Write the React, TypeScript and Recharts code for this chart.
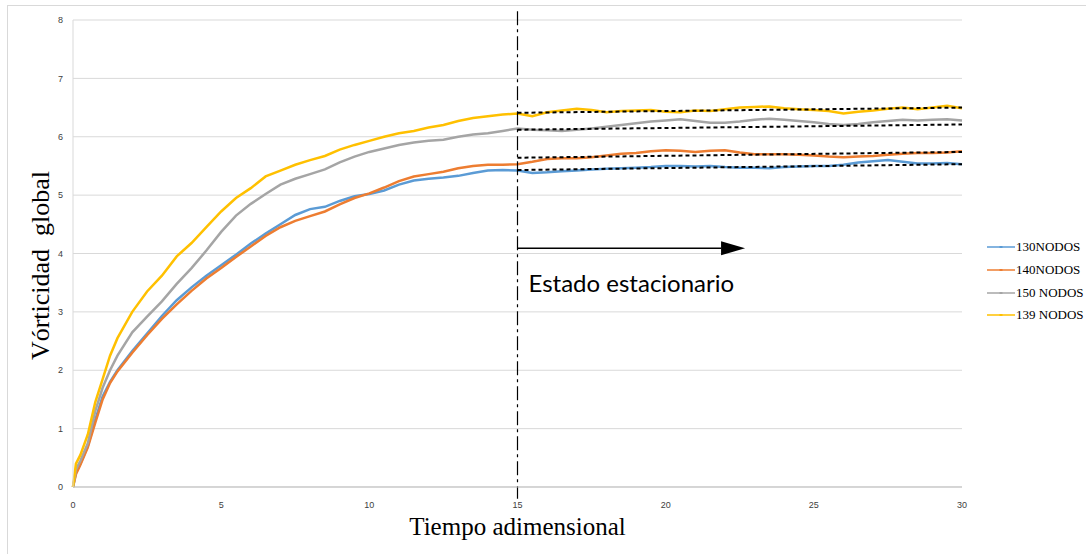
import React from "react";
import {
  CartesianGrid,
  Label,
  Legend,
  Line,
  LineChart,
  ReferenceLine,
  XAxis,
  YAxis,
} from "recharts";

// Tiempo adimensional
const times = [
  0, 0.1, 0.25, 0.5, 0.75, 1, 1.25, 1.5,
  2, 2.5, 3, 3.5, 4, 4.5, 5, 5.5, 6, 6.5,
  7, 7.5, 8, 8.5, 9, 9.5, 10, 10.5, 11, 11.5,
  12, 12.5, 13, 13.5, 14, 14.5, 15, 15.5, 16, 16.5,
  17, 17.5, 18, 18.5, 19, 19.5, 20, 20.5, 21, 21.5,
  22, 22.5, 23, 23.5, 24, 24.5, 25, 25.5, 26, 26.5,
  27, 27.5, 28, 28.5, 29, 29.5, 30,
];

const nodos130 = [
  0, 0.25, 0.4, 0.7, 1.15, 1.55, 1.8, 2.0,
  2.33, 2.63, 2.93, 3.2, 3.42, 3.62, 3.8, 3.98, 4.17, 4.34,
  4.5, 4.66, 4.76, 4.8, 4.9, 4.98, 5.02, 5.08, 5.18, 5.25,
  5.28, 5.3, 5.33, 5.38, 5.42, 5.43, 5.42, 5.38, 5.39, 5.41,
  5.42, 5.44, 5.45, 5.46, 5.47, 5.48, 5.5, 5.5, 5.49, 5.5,
  5.48, 5.47, 5.47, 5.46, 5.48, 5.49, 5.5, 5.5, 5.52, 5.56,
  5.58, 5.6, 5.57, 5.54, 5.54, 5.55, 5.53,
];

const nodos140 = [
  0, 0.22, 0.38, 0.68, 1.1, 1.5, 1.78, 1.98,
  2.3, 2.6, 2.88, 3.13, 3.36, 3.57, 3.75, 3.94, 4.12, 4.3,
  4.45, 4.56, 4.64, 4.72, 4.84, 4.95, 5.03, 5.13, 5.24, 5.32,
  5.36, 5.4, 5.46, 5.5, 5.52, 5.52, 5.53, 5.57, 5.62, 5.63,
  5.63, 5.65, 5.68, 5.71, 5.72, 5.75, 5.77, 5.76, 5.74, 5.76,
  5.77, 5.73, 5.7, 5.7, 5.7, 5.69, 5.68, 5.66, 5.65, 5.66,
  5.67, 5.69, 5.71, 5.72, 5.72, 5.73, 5.75,
];

const nodos150 = [
  0, 0.3, 0.45, 0.75, 1.3, 1.7, 2.0, 2.25,
  2.65, 2.92, 3.18, 3.48, 3.75, 4.05, 4.37, 4.65, 4.85, 5.02,
  5.18, 5.28, 5.36, 5.44, 5.56, 5.66, 5.74, 5.8, 5.86, 5.9,
  5.93, 5.95, 6.0, 6.04, 6.06, 6.1, 6.14, 6.12, 6.11, 6.1,
  6.12, 6.14, 6.17, 6.2, 6.23, 6.26, 6.28, 6.3, 6.27, 6.24,
  6.24, 6.26, 6.29, 6.31, 6.29, 6.27, 6.25, 6.22, 6.2, 6.22,
  6.25, 6.27, 6.29, 6.28, 6.29, 6.3, 6.28,
];

const nodos139 = [
  0, 0.4, 0.55, 0.9, 1.45, 1.85, 2.25, 2.55,
  3.0, 3.35, 3.62, 3.95, 4.18, 4.45, 4.72, 4.95, 5.12, 5.32,
  5.42, 5.52, 5.6, 5.67, 5.78, 5.86, 5.93, 6.0, 6.06, 6.1,
  6.16, 6.2, 6.27, 6.32, 6.35, 6.38, 6.4, 6.35, 6.42, 6.45,
  6.48, 6.46, 6.42, 6.44, 6.45, 6.46, 6.43, 6.42, 6.45, 6.44,
  6.47, 6.5, 6.51, 6.52, 6.49, 6.47, 6.46, 6.44, 6.4, 6.43,
  6.45, 6.48, 6.5, 6.47, 6.5, 6.53, 6.49,
];

const xTicks = [0, 5, 10, 15, 20, 25, 30];
const yTicks = [0, 1, 2, 3, 4, 5, 6, 7, 8];

// tendencias del estado estacionario: [inicio, fin]
const trendStart = 15;
const trendEnd = 30;
const trend130 = [5.43, 5.53];
const trend140 = [5.64, 5.74];
const trend150 = [6.12, 6.21];
const trend139 = [6.41, 6.5];

const steadyStart = 15;
const arrowEnd = 22.68;
const arrowLevel = 4.09;

const series = [
  { key: "n130", name: "130NODOS", color: "#5B9BD5", values: nodos130 },
  { key: "n140", name: "140NODOS", color: "#ED7D31", values: nodos140 },
  { key: "n150", name: "150 NODOS", color: "#A5A5A5", values: nodos150 },
  { key: "n139", name: "139 NODOS", color: "#FFC000", values: nodos139 },
];

const data = times.map((t, i) => {
  const row: Record<string, number> = { t };
  series.forEach((s) => {
    row[s.key] = s.values[i];
  });
  return row;
});

const trends = [trend130, trend140, trend150, trend139];

const ArrowShape = (props: any) => {
  const { x1, y1, x2 } = props;
  const head = 24;
  return (
    <g>
      <line x1={x1} y1={y1} x2={x2 - head} y2={y1} stroke="#000" strokeWidth={1.5} />
      <polygon
        points={`${x2 - head},${y1 - 7} ${x2},${y1} ${x2 - head},${y1 + 7}`}
        fill="#000"
      />
      <text
        x={x1 + 11}
        y={y1 + 44}
        fontFamily="Lato, 'Open Sans', sans-serif"
        fontSize={24}
        fill="#000"
      >
        Estado estacionario
      </text>
    </g>
  );
};

const LegendContent = () => (
  <div style={{ fontFamily: "'Liberation Serif', serif", fontSize: 13, color: "#000" }}>
    {series.map((s) => (
      <div key={s.key} style={{ display: "flex", alignItems: "center", height: 22.7 }}>
        <svg width={28} height={6} style={{ marginRight: 1 }}>
          <line x1={0} y1={3} x2={28} y2={3} stroke={s.color} strokeOpacity={0.75} strokeWidth={2} />
          <rect x={12.5} y={2} width={3} height={2} fill={s.color} />
        </svg>
        <span>{s.name}</span>
      </div>
    ))}
  </div>
);

export default function App() {
  return (
    <div
      style={{
        position: "absolute",
        left: 0,
        top: 0,
        width: 1086,
        height: 554,
        overflow: "hidden",
        background: "#fff",
      }}
    >
      <div
        style={{
          position: "absolute",
          left: 7,
          top: 5,
          width: 1100,
          height: 600,
          borderTop: "1px solid #d9d9d9",
          borderLeft: "1px solid #d9d9d9",
        }}
      />
      <LineChart
        width={1086}
        height={554}
        data={data}
        margin={{ top: 20, right: 124, bottom: 37, left: 33 }}
      >
        <CartesianGrid vertical={false} stroke="#d9d9d9" />
        <XAxis
          dataKey="t"
          type="number"
          domain={[0, 30]}
          ticks={xTicks}
          height={30}
          tickLine={false}
          tickSize={13}
          axisLine={{ stroke: "#bfbfbf" }}
          tick={{ fontSize: 9, fill: "#404040", fontFamily: "'Liberation Sans', sans-serif" }}
        >
          <Label
            content={({ viewBox }: any) => (
              <text
                x={viewBox.x + viewBox.width / 2}
                y={535}
                textAnchor="middle"
                fontFamily="'Liberation Serif', serif"
                fontSize={25}
                fill="#000"
              >
                Tiempo adimensional
              </text>
            )}
          />
        </XAxis>
        <YAxis
          type="number"
          domain={[0, 8]}
          ticks={yTicks}
          width={40}
          tickLine={false}
          tickSize={8}
          axisLine={{ stroke: "#d9d9d9" }}
          tick={{ fontSize: 9, fill: "#404040", fontFamily: "'Liberation Sans', sans-serif" }}
        >
          <Label
            content={({ viewBox }: any) => {
              const cx = 40;
              const cy = viewBox.y + viewBox.height / 2 + 12;
              return (
                <text
                  x={cx}
                  y={cy}
                  transform={`rotate(-90 ${cx} ${cy})`}
                  textAnchor="middle"
                  dominantBaseline="central"
                  fontFamily="'Liberation Serif', serif"
                  fontSize={26}
                  fill="#000"
                  style={{ whiteSpace: "pre" }}
                >
                  {"Vórticidad  global"}
                </text>
              );
            }}
          />
        </YAxis>
        <Legend
          layout="vertical"
          align="center"
          verticalAlign="middle"
          wrapperStyle={{ left: 987, top: 236, width: 99 }}
          content={<LegendContent />}
        />
        {series.map((s) => (
          <Line
            key={s.key}
            dataKey={s.key}
            name={s.name}
            stroke={s.color}
            strokeWidth={2.5}
            dot={false}
            type="linear"
            isAnimationActive={false}
          />
        ))}
        {trends.map((tr, i) => (
          <ReferenceLine
            key={i}
            segment={[
              { x: trendStart, y: tr[0] },
              { x: trendEnd, y: tr[1] },
            ]}
            stroke="#000"
            strokeWidth={2}
            strokeDasharray="4 3"
          />
        ))}
        <ReferenceLine
          segment={[
            { x: steadyStart, y: 8.15 },
            { x: steadyStart, y: -0.2 },
          ]}
          ifOverflow="visible"
          stroke="#000"
          strokeWidth={1.2}
          strokeDasharray="14 4 3 4"
        />
        <ReferenceLine
          segment={[
            { x: steadyStart, y: arrowLevel },
            { x: arrowEnd, y: arrowLevel },
          ]}
          shape={<ArrowShape />}
        />
      </LineChart>
    </div>
  );
}
